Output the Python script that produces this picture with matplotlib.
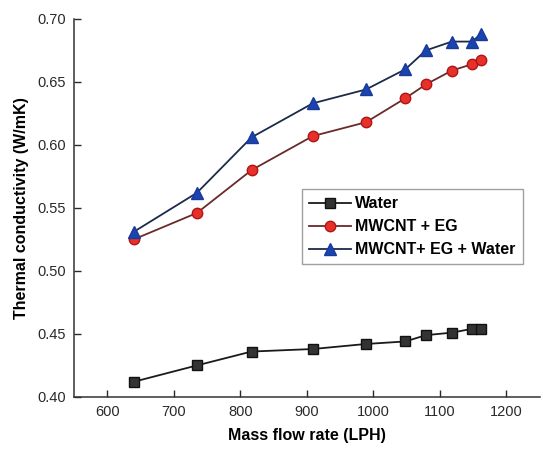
import matplotlib
matplotlib.use("Agg")
import matplotlib.pyplot as plt

plt.rcParams['font.family'] = ['Liberation Sans', 'DejaVu Sans']

flow_rate = [640, 735, 817, 909, 989, 1048, 1079, 1118, 1148, 1162]
water = [0.412, 0.425, 0.436, 0.438, 0.442, 0.444, 0.449, 0.451, 0.454, 0.454]
mwcnt_eg = [0.525, 0.546, 0.580, 0.607, 0.618, 0.637, 0.648, 0.659, 0.664, 0.667]
mwcnt_eg_water = [0.531, 0.562, 0.606, 0.633, 0.644, 0.660, 0.675, 0.682, 0.682, 0.688]

x_ticks = [600, 700, 800, 900, 1000, 1100, 1200]
y_ticks = [0.40, 0.45, 0.50, 0.55, 0.60, 0.65, 0.70]

fig = plt.figure(figsize=(5.43, 4.5), dpi=100)
ax = fig.add_axes([0.136, 0.118, 0.858, 0.840])

ax.plot(flow_rate, water, color='#1a1a1a', lw=1.3, marker='s', ms=6.5,
        mfc='#333333', mec='#111111', mew=1.0, label='Water')
ax.plot(flow_rate, mwcnt_eg, color='#6a2a2a', lw=1.3, marker='o', ms=7.5,
        mfc='#e8302a', mec='#b01515', mew=1.0, label='MWCNT + EG')
ax.plot(flow_rate, mwcnt_eg_water, color='#1c2b4a', lw=1.3, marker='^', ms=8,
        mfc='#1a44b0', mec='#1a3a9a', mew=1.0, label='MWCNT+ EG + Water')

ax.set_xlim(550, 1250)
ax.set_ylim(0.40, 0.70)
ax.set_xticks(x_ticks)
ax.set_yticks(y_ticks)
ax.set_yticklabels([f'{v:.2f}' for v in y_ticks])
ax.tick_params(direction='in', length=5, width=1, labelsize=10.5, colors='#2a2a2a', pad=6)

for side in ('top', 'right'):
    ax.spines[side].set_visible(False)
for side in ('left', 'bottom'):
    ax.spines[side].set_linewidth(1.1)
    ax.spines[side].set_color('#333333')

ax.set_xlabel('Mass flow rate (LPH)', fontsize=11.5, fontweight='bold', labelpad=6)
ax.set_ylabel('Thermal conductivity (W/mK)', fontsize=11.5, fontweight='bold', labelpad=6)

leg = ax.legend(loc='upper left', bbox_to_anchor=(0.556, 0.58), bbox_transform=fig.transFigure,
                frameon=True, fancybox=False, edgecolor='#888888',
                prop={'weight': 'bold', 'size': 11.5},
                handlelength=2.6, handletextpad=0.3, borderpad=0.45, labelspacing=0.5,
                borderaxespad=0)
leg.get_frame().set_linewidth(1.0)

fig.savefig('out.png', dpi=100)
